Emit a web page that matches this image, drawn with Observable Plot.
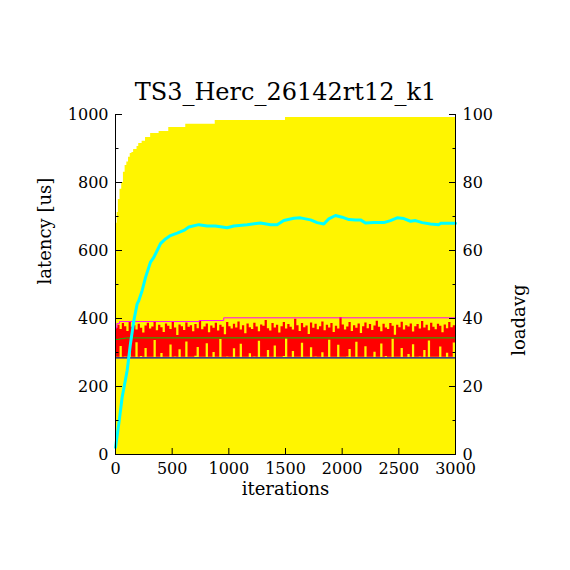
<!DOCTYPE html>
<html><head><meta charset="utf-8">
<script src="https://cdn.jsdelivr.net/npm/d3@7"></script>
<script src="https://cdn.jsdelivr.net/npm/@observablehq/plot@0.6"></script>
<style>body{margin:0;background:#fff;}</style>
</head><body><div id="chart"></div>
<script>
const title = "TS3_Herc_26142rt12_k1";
const xLabel = "iterations";
const yLabel = "latency [us]";
const y2Label = "loadavg";
const xTicks = [0, 500, 1000, 1500, 2000, 2500, 3000];
const yTicks = [0, 200, 400, 600, 800, 1000];
const yMinorTicks = [100, 300, 500, 700, 900];

// max-latency envelope (yellow)
const envIter = [0,8,15,25,40,55,70,85,100,115,130,145,160,190,205,235,265,310,385,470,620,880,1500,3000];
const envLat  = [600,680,712,750,780,800,830,850,860,874,885,888,897,906,915,921,932,944,950,962,971,982,991,991];

// per-sample max / min latency (red band), one value every 20 iterations
const sampleMax = [
372,380,368,385,376,362,388,374,379,366,
383,371,357,378,386,369,375,391,364,380,
373,359,384,377,368,389,372,350,381,376,
365,387,374,379,361,382,370,393,367,375,
384,358,378,371,386,363,380,374,352,388,
376,369,383,372,390,366,379,355,384,373,
368,386,375,361,381,377,394,370,363,385,
372,380,357,376,388,369,382,374,366,398,
379,362,385,373,378,353,387,371,383,367,
376,390,364,380,372,385,359,377,369,403,
381,366,375,388,362,379,371,384,356,376,
387,370,382,365,378,392,374,361,383,372,
368,385,377,351,380,373,389,366,379,375,
384,360,376,382,369,391,372,380,364,386,
374,367,383,377,358,381,370,388,373,379];
const sampleMin = [
286,286,318,286,287,286,302,286,286,329,
286,288,286,312,286,286,286,335,286,286,
297,286,286,286,322,286,287,286,308,286,
286,331,286,286,286,289,315,286,286,286,
326,286,286,300,286,286,338,286,286,287,
286,286,311,286,286,324,286,286,286,296,
286,287,286,333,286,286,286,306,286,286,
319,286,286,286,288,340,286,286,303,286,
286,286,327,286,286,286,314,286,287,286,
286,299,286,286,336,286,286,286,321,286,
286,286,287,309,286,286,330,286,286,286,
317,286,286,286,301,286,286,325,286,288,
286,286,339,286,286,286,312,286,286,294,
286,323,286,286,287,286,306,286,334,286,
286,286,286,316,286,286,298,286,286,328];

// running max (magenta), average (green), overall min (blue)
const runMaxIter = [0,0,12,35,740,955,3000];
const runMaxLat  = [284,372,385,391,394,402,402];
const avgIter = [0,30,60,100,3000];
const avgLat  = [338,339,341,343,343];
const minIter = [0,3000];
const minLat  = [284,284];

// loadavg (cyan, right axis)
const loadIter = [0,29,59,103,132,162,191,206,235,265,309,338,368,397,441,485,544,603,647,735,809,882,985,1044,1162,1279,1368,1426,1485,1574,1632,1721,1779,1838,1882,1941,2000,2059,2118,2162,2206,2279,2368,2426,2485,2544,2603,2647,2706,2779,2853,2868,3000];
const loadVal  = [2.1,9.0,16.9,24.7,32.6,39.4,44.3,45.3,48.2,52.1,56.6,58.0,60.0,62.0,63.4,64.4,65.1,65.9,66.9,67.6,67.2,67.2,66.7,67.2,67.6,68.1,67.6,67.6,68.8,69.5,69.6,69.0,68.2,67.8,69.3,70.3,69.8,69.1,69.0,69.0,68.1,68.2,68.2,68.8,69.6,69.4,68.6,68.8,68.2,67.8,67.6,68.0,68.0];
const loadScale = 10; // loadavg 0..100 on latency 0..1000

const env = envIter.map((x, i) => ({x, y: envLat[i]}));
const samples = sampleMax.map((v, i) => ({x: i * 20, y1: sampleMin[i], y2: v}));
samples.push({x: 3000, y1: sampleMin[sampleMin.length - 1], y2: sampleMax[sampleMax.length - 1]});
const runMax = runMaxIter.map((x, i) => ({x, y: runMaxLat[i]}));
const avg = avgIter.map((x, i) => ({x, y: avgLat[i]}));
const mins = minIter.map((x, i) => ({x, y: minLat[i]}));
const load = loadIter.map((x, i) => ({x, y: loadVal[i] * loadScale}));

const yellow = "#fff500";
const font = "DejaVu Serif";

const chart = Plot.plot({
  width: 570, height: 570,
  marginTop: 114, marginBottom: 116, marginLeft: 115, marginRight: 115,
  style: {fontFamily: font, fontSize: "16px", background: "white", color: "black"},
  x: {domain: [0, 3000]},
  y: {domain: [0, 1000]},
  marks: [
    Plot.areaY(env, {x: "x", y: "y", curve: "step-after", fill: yellow}),
    Plot.areaY(samples, {x: "x", y1: "y1", y2: "y2", curve: "step-after", fill: "#ff0000"}),
    Plot.lineY(avg, {x: "x", y: "y", stroke: "#00cc00", strokeWidth: 1}),
    Plot.lineY(mins, {x: "x", y: "y", stroke: "#0000b0", strokeWidth: 1.2}),
    Plot.lineY(runMax, {x: "x", y: "y", curve: "step-after", stroke: "#ff00ff", strokeWidth: 1}),
    Plot.lineY(load, {x: "x", y: "y", stroke: "#00ffff", strokeWidth: 3}),
    Plot.ruleX([0, 3000], {stroke: "black"}),
    Plot.ruleY([0], {stroke: "black"}),
    Plot.axisY(yTicks, {anchor: "left", tickSize: -7, tickPadding: 14, tickFormat: d => String(d), label: null, fontSize: 16}),
    Plot.axisY(yMinorTicks, {anchor: "left", tickSize: -3.5, tickFormat: () => "", label: null}),
    Plot.axisY(yTicks, {anchor: "right", tickSize: -7, tickPadding: 14, tickFormat: d => String(d / loadScale), label: null, fontSize: 16}),
    Plot.axisY(yMinorTicks, {anchor: "right", tickSize: -3.5, tickFormat: () => "", label: null}),
    Plot.axisX(xTicks, {anchor: "bottom", tickSize: -6, tickPadding: 14, tickFormat: d => String(d), label: null, fontSize: 16}),
    Plot.text([title], {frameAnchor: "top", dy: -32, fontSize: 24, fontFamily: font, letterSpacing: "0.5px"}),
    Plot.text([xLabel], {frameAnchor: "bottom", dy: 40, fontSize: 18, fontFamily: font}),
    Plot.text([yLabel], {frameAnchor: "left", dx: -70, rotate: -90, fontSize: 18, fontFamily: font}),
    Plot.text([y2Label], {frameAnchor: "right", dx: 64, rotate: -90, fontSize: 18, fontFamily: font})
  ]
});
document.getElementById("chart").appendChild(chart);
</script>
</body></html>
